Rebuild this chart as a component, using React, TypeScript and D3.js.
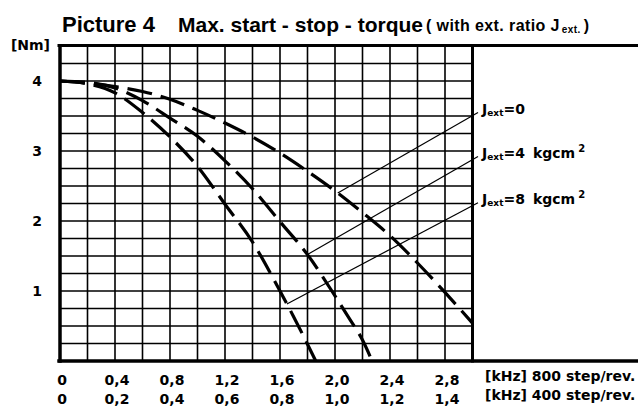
import React from "react";
import * as d3 from "d3";

// Frequency (kHz, 800 step/rev.) and torque (Nm)
const freqJ0 = [0, 0.2, 0.4, 0.6, 0.8, 1.0, 1.2, 1.4, 1.6, 1.8, 2.0, 2.2, 2.4, 2.6, 2.8, 3.0];
const torqueJ0 = [4.0, 3.97, 3.92, 3.85, 3.74, 3.58, 3.4, 3.2, 2.97, 2.71, 2.43, 2.12, 1.79, 1.4, 0.98, 0.54];

const freqJ4 = [0, 0.2, 0.4, 0.6, 0.8, 1.0, 1.2, 1.4, 1.6, 1.8, 2.0, 2.1, 2.2, 2.27];
const torqueJ4 = [4.0, 3.98, 3.9, 3.72, 3.47, 3.21, 2.86, 2.46, 1.99, 1.52, 0.93, 0.62, 0.3, 0.0];

const freqJ8 = [0, 0.2, 0.4, 0.6, 0.8, 1.0, 1.2, 1.4, 1.6, 1.7, 1.8, 1.86];
const torqueJ8 = [4.0, 3.96, 3.83, 3.55, 3.2, 2.78, 2.24, 1.7, 1.0, 0.63, 0.24, 0.0];

const seriesNames = ["0", "4", "8"];
const legendAnchorF = [2.02, 1.8, 1.65]; // where leader lines touch the curves
const legendEndT = [3.55, 2.92, 2.26]; // leader line end heights (Nm)

const xTickVals = [0, 0.4, 0.8, 1.2, 1.6, 2.0, 2.4, 2.8];
const xTicks800 = ["0", "0,4", "0,8", "1,2", "1,6", "2,0", "2,4", "2,8"];
const xTicks400 = ["0", "0,2", "0,4", "0,6", "0,8", "1,0", "1,2", "1,4"];
const yTicks = [1, 2, 3, 4];

export default function App() {
  const W = 638;
  const H = 408;
  const x = d3.scaleLinear().domain([0, 3]).range([60, 472.5]);
  const y = d3.scaleLinear().domain([0, 4.5]).range([361, 46]);

  const series = [
    { f: freqJ0, t: torqueJ0 },
    { f: freqJ4, t: torqueJ4 },
    { f: freqJ8, t: torqueJ8 },
  ];

  const line = d3
    .line<[number, number]>()
    .x((d) => x(d[0]))
    .y((d) => y(d[1]))
    .curve(d3.curveMonotoneX);

  const vGrid = d3.range(0, 16).map((i) => i * 0.2);
  const hGrid = d3.range(0, 19).map((i) => i * 0.25);

  const labelFont = "'DejaVu Sans', sans-serif";
  const titleFont = "'Liberation Sans', Arial, sans-serif";

  const xRight = x(3);
  const legendX = xRight + 5.5;

  return (
    <svg
      width={W}
      height={H}
      viewBox={`0 0 ${W} ${H}`}
      style={{ position: "absolute", left: 0, top: 0, background: "#fff" }}
    >
      <rect x={0} y={0} width={W} height={H} fill="#fff" />
      {/* Title */}
      <text x={62} y={32} fontFamily={titleFont} fontWeight={700} fontSize={22} fill="#000">
        Picture 4
      </text>
      <text x={178} y={32} fontFamily={titleFont} fontWeight={700} fontSize={21} fill="#000">
        Max. start - stop - torque
      </text>
      <text x={426} y={31} fontFamily={titleFont} fontWeight={700} fontSize={16} fill="#000" letterSpacing={0.4}>
        ( with ext. ratio J
        <tspan fontSize={10} dx={2} dy={2}>ext.</tspan>
        <tspan fontSize={16} dx={3} dy={-2}>)</tspan>
      </text>

      {/* grid */}
      <g stroke="#000">
        {vGrid.map((v, i) => (
          <line key={"v" + i} x1={x(v)} x2={x(v)} y1={y(4.5)} y2={y(0)} strokeWidth={1.6} />
        ))}
        {hGrid.map((v, i) => (
          <line key={"h" + i} x1={x(0)} x2={xRight} y1={y(v)} y2={y(v)} strokeWidth={1.6} />
        ))}
      </g>

      {/* frame */}
      <g stroke="#000" strokeLinecap="square">
        <line x1={x(0)} x2={x(0)} y1={y(4.5)} y2={y(0)} strokeWidth={3.5} />
        <line x1={xRight} x2={xRight} y1={y(4.5)} y2={y(0)} strokeWidth={3} />
        <line x1={x(0) - 1} x2={W} y1={y(4.5) - 0.5} y2={y(4.5) - 0.5} strokeWidth={3} />
        <line x1={x(0) - 1} x2={W} y1={y(0)} y2={y(0)} strokeWidth={3.5} />
      </g>

      {/* curves */}
      {series.map((s, i) => (
        <path
          key={"c" + i}
          d={line(s.f.map((f, j) => [f, s.t[j]] as [number, number])) || ""}
          fill="none"
          stroke="#000"
          strokeWidth={3.2}
          strokeDasharray="25 9"
        />
      ))}

      {/* leader lines and legend */}
      {series.map((s, i) => {
        const interp = d3.scaleLinear().domain(s.f).range(s.t);
        const ax = x(legendAnchorF[i]);
        const ay = y(interp(legendAnchorF[i]));
        const ey = y(legendEndT[i]);
        return (
          <g key={"l" + i}>
            <line x1={ax} y1={ay} x2={legendX} y2={ey} stroke="#000" strokeWidth={1.2} />
            <text x={legendX + 4} y={ey + 1} fontFamily={labelFont} fontWeight={700} fontSize={14} fill="#000">
              J
              <tspan fontSize={9} dy={2}>ext</tspan>
              <tspan fontSize={14} dy={-2}>{"=" + seriesNames[i]}</tspan>
              {i > 0 ? <tspan fontSize={14} dx={8}>kgcm</tspan> : null}
              {i > 0 ? <tspan fontSize={10} dx={3} dy={-6}>2</tspan> : null}
            </text>
          </g>
        );
      })}

      {/* y axis */}
      <text x={50} y={50} textAnchor="end" fontFamily={labelFont} fontWeight={700} fontSize={14} fill="#000">
        [Nm]
      </text>
      {yTicks.map((t) => (
        <text
          key={"yt" + t}
          x={37}
          y={y(t) + 5}
          textAnchor="middle"
          fontFamily={labelFont}
          fontWeight={700}
          fontSize={14}
          fill="#000"
        >
          {t}
        </text>
      ))}

      {/* x axis labels */}
      {xTickVals.map((v, i) => (
        <g key={"xt" + i}>
          <text x={x(v) + 2} y={385} textAnchor="middle" fontFamily={labelFont} fontWeight={700} fontSize={14} fill="#000">
            {xTicks800[i]}
          </text>
          <text x={x(v) + 2} y={404} textAnchor="middle" fontFamily={labelFont} fontWeight={700} fontSize={14} fill="#000">
            {xTicks400[i]}
          </text>
        </g>
      ))}
      <text x={485} y={381} fontFamily={labelFont} fontWeight={700} fontSize={14} fill="#000">
        [kHz] 800 step/rev.
      </text>
      <text x={485} y={400} fontFamily={labelFont} fontWeight={700} fontSize={14} fill="#000">
        [kHz] 400 step/rev.
      </text>
    </svg>
  );
}
